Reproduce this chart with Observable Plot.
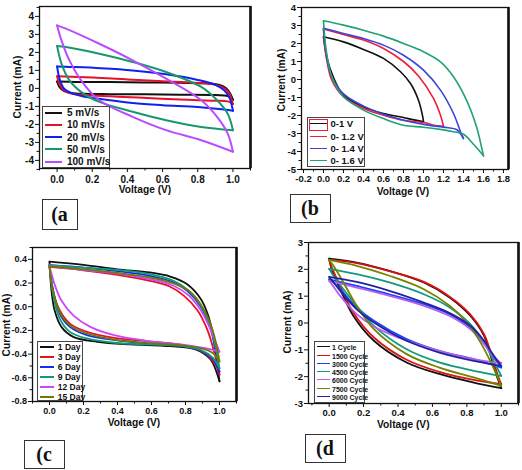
<!DOCTYPE html>
<html><head><meta charset="utf-8">
<script src="https://cdn.jsdelivr.net/npm/d3@7"></script>
<script src="https://cdn.jsdelivr.net/npm/@observablehq/plot@0.6"></script>
<style>
body{margin:0;background:#fff;}
#fig{position:relative;width:522px;height:470px;background:#fff;font-family:"Liberation Sans",Arial,sans-serif;overflow:hidden;color:#111}
.panel{position:absolute}
.title{position:absolute;font-weight:bold;font-size:10.2px;white-space:nowrap;color:#111;line-height:1}
.xt{transform:translate(-50%,-50%)}
.yt{transform:translate(-50%,-50%) rotate(-90deg)}
.legend{position:absolute;border:1px solid #444;background:#fff;box-sizing:border-box}
.legend .sw{position:absolute;height:0}
.legend .tx{position:absolute;font-weight:bold;white-space:nowrap;line-height:1;transform:translateY(-50%)}
.lab{position:absolute;border:1.5px solid #333;box-sizing:border-box;font-family:"Liberation Serif","Times New Roman",serif;font-weight:bold;font-size:20px;display:flex;align-items:center;justify-content:center;color:#111}
</style></head>
<body><div id="fig"></div>
<script>
// ---------- Panel (a): scan rate ----------
const rateLabels = ["5 mV/s", "10 mV/s", "20 mV/s", "50 mV/s", "100 mV/s"];
const rateColors = ["#111111", "#e8102a", "#1020f0", "#16986e", "#b84cff"];
const rate5 = [[0,0.38],[0.1,0.36],[0.3,0.35],[0.5,0.33],[0.7,0.31],[0.85,0.28],[0.92,0.2],[0.96,0.02],[0.985,-0.3],[1.0,-0.63],[0.97,-0.42],[0.9,-0.37],[0.7,-0.35],[0.5,-0.33],[0.3,-0.32],[0.15,-0.3],[0.08,-0.25],[0.04,-0.15],[0.015,0.05],[0,0.38]];
const rate10 = [[0,0.68],[0.2,0.6],[0.4,0.5],[0.6,0.4],[0.8,0.3],[0.9,0.2],[0.95,0.02],[0.98,-0.3],[1.0,-0.86],[0.97,-0.72],[0.9,-0.68],[0.7,-0.62],[0.46,-0.51],[0.3,-0.44],[0.15,-0.36],[0.08,-0.28],[0.04,-0.12],[0.015,0.2],[0,0.68]];
const rate20 = [[0,1.22],[0.05,1.2],[0.25,1.12],[0.43,1.0],[0.62,0.78],[0.8,0.47],[0.9,0.2],[0.95,-0.1],[0.98,-0.5],[1.0,-1.24],[0.95,-1.17],[0.8,-1.03],[0.6,-0.93],[0.43,-0.81],[0.27,-0.62],[0.15,-0.45],[0.08,-0.25],[0.04,-0.02],[0.015,0.5],[0,1.22]];
const rate50 = [[0,2.36],[0.05,2.3],[0.24,1.93],[0.43,1.47],[0.62,0.91],[0.82,0.08],[0.91,-0.66],[0.97,-1.4],[1.0,-2.32],[0.82,-2.14],[0.62,-1.77],[0.43,-1.3],[0.24,-0.75],[0.15,-0.29],[0.07,0.45],[0.025,1.38],[0,2.36]];
const rate100 = [[0,3.5],[0.05,3.32],[0.24,2.48],[0.43,1.56],[0.62,0.54],[0.82,-0.66],[0.91,-1.58],[0.97,-2.5],[1.0,-3.52],[0.82,-2.88],[0.62,-2.32],[0.43,-1.58],[0.24,-0.66],[0.15,0.27],[0.07,1.56],[0.025,2.67],[0,3.5]];
const rateSeries = [rate5, rate10, rate20, rate50, rate100];
const aXTicks = [0, 0.2, 0.4, 0.6, 0.8, 1.0];
const aXMinor = [-0.1, 0.1, 0.3, 0.5, 0.7, 0.9, 1.1];
const aYTicks = [-4, -3, -2, -1, 0, 1, 2, 3, 4];
const aYMinor = [-4.5, -3.5, -2.5, -1.5, -0.5, 0.5, 1.5, 2.5, 3.5, 4.5];

// ---------- Panel (b): potential window ----------
const windowLabels = ["0-1 V", "0- 1.2 V", "0- 1.4 V", "0- 1.6 V"];
const windowColors = ["#111111", "#ee1f3c", "#3a44d8", "#1fa276"];
const win10 = [[0,2.37],[0.2,2.09],[0.4,1.67],[0.6,1.17],[0.77,0.43],[0.87,-0.22],[0.95,-1.15],[0.99,-2.0],[1.0,-2.35],[0.87,-2.2],[0.8,-2.11],[0.6,-1.89],[0.4,-1.52],[0.2,-0.87],[0.1,0.11],[0.033,1.22],[0.008,2.0],[0,2.37]];
const win12 = [[0,2.8],[0.2,2.5],[0.4,2.19],[0.6,1.72],[0.8,1.0],[0.95,0.2],[1.1,-1.05],[1.17,-1.98],[1.2,-2.6],[1.1,-2.54],[1.03,-2.42],[0.8,-2.26],[0.6,-1.98],[0.4,-1.61],[0.2,-0.96],[0.083,-0.04],[0.033,1.07],[0.007,2.19],[0,2.8]];
const win14 = [[0,2.85],[0.2,2.56],[0.4,2.28],[0.6,1.91],[0.8,1.35],[1.0,0.52],[1.17,-0.59],[1.3,-1.89],[1.37,-2.9],[1.4,-3.28],[1.33,-2.78],[1.23,-2.67],[1.03,-2.52],[0.8,-2.26],[0.6,-1.93],[0.4,-1.48],[0.2,-0.8],[0.083,0.15],[0.027,1.44],[0,2.85]];
const win16 = [[0,3.26],[0.2,3.02],[0.4,2.74],[0.6,2.41],[0.8,2.0],[1.0,1.54],[1.17,0.98],[1.3,0.15],[1.43,-1.15],[1.53,-2.63],[1.58,-3.74],[1.6,-4.24],[1.5,-3.6],[1.4,-3.04],[1.3,-2.9],[1.2,-2.8],[1.0,-2.65],[0.8,-2.54],[0.6,-2.17],[0.4,-1.7],[0.2,-0.96],[0.083,0.15],[0.027,1.63],[0,3.26]];
const windowSeries = [win10, win12, win14, win16];
const bXTicks = [-0.2, 0, 0.2, 0.4, 0.6, 0.8, 1.0, 1.2, 1.4, 1.6, 1.8];
const bXMinor = [-0.1, 0.1, 0.3, 0.5, 0.7, 0.9, 1.1, 1.3, 1.5, 1.7];
const bYTicks = [-5, -4, -3, -2, -1, 0, 1, 2, 3, 4];
const bYMinor = [-4.5, -3.5, -2.5, -1.5, -0.5, 0.5, 1.5, 2.5, 3.5];

// ---------- Panel (c): days ----------
const dayLabels = ["1 Day", "3 Day", "6 Day", "9 Day", "12 Day", "15 Day"];
const dayColors = ["#111111", "#e8102a", "#1030f0", "#12987a", "#cc44ff", "#6f7a00"];
const day1 = [[0,0.38],[0.2,0.353],[0.4,0.316],[0.59,0.289],[0.71,0.255],[0.81,0.19],[0.89,0.066],[0.93,-0.06],[0.96,-0.226],[0.98,-0.42],[1.0,-0.63],[0.95,-0.45],[0.89,-0.38],[0.83,-0.35],[0.67,-0.33],[0.475,-0.318],[0.28,-0.296],[0.14,-0.254],[0.07,-0.17],[0.03,-0.03],[0.01,0.16],[0,0.38]];
const day3 = [[0,0.336],[0.2,0.308],[0.4,0.269],[0.59,0.219],[0.71,0.169],[0.79,0.094],[0.87,-0.03],[0.93,-0.2],[0.97,-0.39],[1.0,-0.574],[0.98,-0.5],[0.93,-0.41],[0.87,-0.36],[0.77,-0.32],[0.57,-0.29],[0.38,-0.263],[0.22,-0.212],[0.12,-0.143],[0.06,-0.03],[0.02,0.135],[0,0.336]];
const day6 = [[0,0.35],[0.2,0.33],[0.4,0.30],[0.59,0.26],[0.73,0.205],[0.81,0.135],[0.89,0.0],[0.95,-0.2],[0.98,-0.39],[1.0,-0.55],[0.96,-0.44],[0.89,-0.37],[0.77,-0.33],[0.57,-0.31],[0.38,-0.28],[0.22,-0.24],[0.12,-0.17],[0.06,-0.06],[0.02,0.15],[0,0.35]];
const day9 = [[0,0.35],[0.2,0.33],[0.4,0.31],[0.59,0.275],[0.73,0.219],[0.82,0.135],[0.89,0.01],[0.95,-0.185],[0.98,-0.366],[1.0,-0.52],[0.96,-0.43],[0.89,-0.365],[0.77,-0.33],[0.57,-0.318],[0.38,-0.304],[0.22,-0.268],[0.12,-0.212],[0.06,-0.1],[0.02,0.11],[0,0.35]];
const day12 = [[0,0.344],[0.2,0.31],[0.4,0.28],[0.59,0.233],[0.73,0.177],[0.82,0.094],[0.89,-0.03],[0.95,-0.2],[0.98,-0.31],[1.0,-0.38],[0.95,-0.36],[0.87,-0.338],[0.77,-0.318],[0.57,-0.288],[0.38,-0.24],[0.24,-0.17],[0.14,-0.073],[0.07,0.052],[0.03,0.19],[0,0.344]];
const day15 = [[0,0.34],[0.2,0.315],[0.4,0.285],[0.59,0.247],[0.73,0.197],[0.83,0.122],[0.9,-0.004],[0.95,-0.157],[0.98,-0.31],[1.0,-0.463],[0.96,-0.39],[0.89,-0.35],[0.77,-0.325],[0.57,-0.305],[0.38,-0.277],[0.22,-0.226],[0.12,-0.157],[0.06,-0.045],[0.02,0.14],[0,0.34]];
const daySeries = [day1, day3, day6, day9, day12, day15];
const cXTicks = [0, 0.2, 0.4, 0.6, 0.8, 1.0];
const cXMinor = [-0.1, 0.1, 0.3, 0.5, 0.7, 0.9, 1.1];
const cYTicks = [-0.8, -0.6, -0.4, -0.2, 0, 0.2, 0.4];
const cYMinor = [-0.7, -0.5, -0.3, -0.1, 0.1, 0.3, 0.5];

// ---------- Panel (d): cycles ----------
const cycleLabels = ["1 Cycle", "1500 Cycle", "3000 Cycle", "4500 Cycle", "6000 Cycle", "7500 Cycle", "9000 Cycle"];
const cycleColors = ["#111111", "#dd1111", "#1144ff", "#129a80", "#b95cf0", "#748400", "#22229a"];
const cyc1 = [[0,2.4],[0.16,2.25],[0.35,1.94],[0.55,1.51],[0.7,0.95],[0.82,0.27],[0.9,-0.48],[0.95,-1.47],[0.98,-2.09],[1.0,-2.43],[0.84,-2.22],[0.64,-1.9],[0.45,-1.47],[0.26,-0.66],[0.14,0.27],[0.064,1.26],[0.015,2.0],[0,2.4]];
const cyc1500 = [[0,2.35],[0.16,2.23],[0.35,1.93],[0.55,1.53],[0.7,0.98],[0.82,0.32],[0.9,-0.42],[0.95,-1.35],[0.98,-1.96],[1.0,-2.28],[0.84,-2.12],[0.64,-1.82],[0.45,-1.37],[0.26,-0.54],[0.14,0.39],[0.064,1.38],[0.015,2.07],[0,2.35]];
const cyc3000 = [[0,1.63],[0.16,1.38],[0.35,1.07],[0.55,0.7],[0.7,0.33],[0.82,-0.17],[0.9,-0.73],[0.95,-1.22],[1.0,-1.66],[0.84,-1.35],[0.64,-1.04],[0.45,-0.6],[0.26,0.08],[0.16,0.58],[0.064,1.26],[0.015,1.57],[0,1.63]];
const cyc4500 = [[0,2.02],[0.16,1.82],[0.35,1.51],[0.55,1.07],[0.7,0.58],[0.82,-0.04],[0.9,-0.73],[0.95,-1.35],[1.0,-1.97],[0.84,-1.78],[0.64,-1.47],[0.45,-0.98],[0.26,-0.11],[0.16,0.64],[0.083,1.26],[0.025,1.76],[0,2.02]];
const cyc6000 = [[0,1.57],[0.16,1.32],[0.35,1.01],[0.55,0.64],[0.7,0.26],[0.82,-0.23],[0.9,-0.79],[0.95,-1.22],[1.0,-1.5],[0.84,-1.35],[0.64,-1.04],[0.45,-0.66],[0.26,-0.13],[0.16,0.33],[0.064,1.01],[0.015,1.45],[0,1.57]];
const cyc7500 = [[0,2.35],[0.16,2.13],[0.35,1.76],[0.55,1.26],[0.7,0.64],[0.8,0.02],[0.88,-0.73],[0.94,-1.47],[1.0,-2.34],[0.84,-2.03],[0.64,-1.66],[0.45,-1.16],[0.26,-0.23],[0.16,0.64],[0.083,1.51],[0.025,2.13],[0,2.35]];
const cyc9000 = [[0,1.72],[0.16,1.53],[0.35,1.2],[0.55,0.76],[0.7,0.37],[0.82,-0.1],[0.9,-0.66],[0.95,-1.16],[1.0,-1.6],[0.84,-1.41],[0.64,-1.1],[0.45,-0.66],[0.26,0.02],[0.16,0.51],[0.064,1.2],[0.015,1.6],[0,1.72]];
const cycleSeries = [cyc1, cyc1500, cyc3000, cyc4500, cyc6000, cyc7500, cyc9000];
const dXTicks = [0, 0.2, 0.4, 0.6, 0.8, 1.0];
const dXMinor = [-0.1, 0.1, 0.3, 0.5, 0.7, 0.9, 1.1];
const dYTicks = [-3, -2, -1, 0, 1, 2, 3];
const dYMinor = [-2.5, -1.5, -0.5, 0.5, 1.5, 2.5];

const xTitle = "Voltage (V)";
const yTitle = "Current (mA)";
const panelTags = ["(a", "(b", "(c", "(d"];

// ---------- helpers ----------
const fig = document.getElementById("fig");

function toRows(series, labels) {
  const rows = [];
  series.forEach((pts, s) => {
    let k = 0;
    pts.forEach((p, j) => { if (p[0] > pts[k][0]) k = j; });
    pts.forEach((p, j) => {
      if (j <= k) rows.push({v: p[0], i: p[1], name: labels[s], branch: s + "-up"});
    });
    pts.forEach((p, j) => {
      if (j >= k) rows.push({v: p[0], i: p[1], name: labels[s], branch: s + "-down"});
    });
  });
  return rows;
}

function makePanel(cfg) {
  const rows = toRows(cfg.series, cfg.labels);
  const svg = Plot.plot({
    width: cfg.w, height: cfg.h,
    marginTop: cfg.m[0], marginRight: cfg.m[1], marginBottom: cfg.m[2], marginLeft: cfg.m[3],
    style: {fontFamily: "Liberation Sans, Arial, sans-serif", fontWeight: "bold", fontSize: cfg.fs + "px", color: "#111", background: "transparent"},
    x: {domain: cfg.xd, label: null},
    y: {domain: cfg.yd, label: null},
    color: {domain: cfg.labels, range: cfg.colors},
    marks: [
      Plot.line(rows, {x: "v", y: "i", z: "branch", stroke: "name", strokeWidth: cfg.sw, curve: "catmull-rom"}),
      Plot.frame({stroke: "#111", strokeWidth: 1.3}),
      Plot.ruleX([cfg.xd[1]], {stroke: "#111", strokeWidth: 2.6}),
      Plot.axisX(cfg.xt, {tickSize: 4, tickPadding: cfg.xpad, tickFormat: d => d.toFixed(1), label: null, stroke: "#111"}),
      Plot.axisX(cfg.xm, {tickSize: 2.5, tickFormat: () => "", label: null, stroke: "#111"}),
      Plot.axisY(cfg.yt, {tickSize: 4, tickPadding: 1.5, tickFormat: cfg.yfmt, label: null, stroke: "#111"}),
      Plot.axisY(cfg.ym, {tickSize: 2.5, tickFormat: () => "", label: null, stroke: "#111"})
    ]
  });
  const holder = document.createElement("div");
  holder.className = "panel";
  holder.style.left = cfg.left + "px";
  holder.style.top = cfg.top + "px";
  holder.appendChild(svg);
  fig.appendChild(holder);

  // axis titles
  const xt = document.createElement("div");
  xt.className = "title xt"; xt.textContent = xTitle;
  xt.style.left = cfg.xtPos[0] + "px"; xt.style.top = cfg.xtPos[1] + "px";
  const yt = document.createElement("div");
  yt.className = "title yt"; yt.textContent = yTitle;
  yt.style.left = cfg.ytPos[0] + "px"; yt.style.top = cfg.ytPos[1] + "px";
  fig.appendChild(xt); fig.appendChild(yt);

  // legend
  const L = cfg.leg;
  const lg = document.createElement("div");
  lg.className = "legend";
  Object.assign(lg.style, {left: L.x + "px", top: L.y + "px", width: L.w + "px", height: L.h + "px"});
  cfg.labels.forEach((lab, k) => {
    const cy = L.r0 + L.step * k;
    const sw = document.createElement("div");
    sw.className = "sw";
    Object.assign(sw.style, {left: L.l1 + "px", width: (L.l2 - L.l1) + "px", top: (cy - L.lw / 2) + "px", borderTop: L.lw + "px solid " + cfg.colors[k]});
    lg.appendChild(sw);
    const tx = document.createElement("div");
    tx.className = "tx"; tx.textContent = lab;
    Object.assign(tx.style, {left: L.tx + "px", top: cy + "px", fontSize: L.fs + "px"});
    lg.appendChild(tx);
  });
  if (L.mark) {
    const mk = document.createElement("div");
    Object.assign(mk.style, {position: "absolute", left: L.mark[0] + "px", top: L.mark[1] + "px", width: L.mark[2] + "px", height: L.mark[3] + "px", border: "1px solid #e8203c", boxSizing: "border-box"});
    lg.appendChild(mk);
  }
  fig.appendChild(lg);

  // panel tag box
  const tag = document.createElement("div");
  tag.className = "lab"; tag.textContent = cfg.tag;
  Object.assign(tag.style, {left: cfg.tagBox[0] + "px", top: cfg.tagBox[1] + "px", width: cfg.tagBox[2] + "px", height: cfg.tagBox[3] + "px"});
  fig.appendChild(tag);
}

const intFmt = d => String(d);
const oneFmt = d => d.toFixed(1);

makePanel({series: rateSeries, labels: rateLabels, colors: rateColors, sw: 2,
  left: 0, top: 0, w: 260, h: 185, m: [6, 10, 17, 39], fs: 10, xpad: 3,
  xd: [-0.1, 1.1], yd: [-4.45, 4.55], xt: aXTicks, xm: aXMinor, yt: aYTicks, ym: aYMinor, yfmt: intFmt,
  xtPos: [145, 190], ytPos: [18, 87],
  leg: {x: 41.5, y: 105.5, w: 68, h: 62, r0: 6.8, step: 12.1, l1: 2.5, l2: 19.5, tx: 24.5, fs: 10, lw: 2.4},
  tag: panelTags[0], tagBox: [41.5, 199, 36, 31]});

makePanel({series: windowSeries, labels: windowLabels, colors: windowColors, sw: 1.6,
  left: 260, top: 0, w: 262, h: 185, m: [7, 14, 16, 41], fs: 9.5, xpad: 2,
  xd: [-0.22, 1.85], yd: [-5, 4], xt: bXTicks, xm: bXMinor, yt: bYTicks, ym: bYMinor, yfmt: intFmt,
  xtPos: [403, 191.5], ytPos: [281.5, 80],
  leg: {x: 306.5, y: 116.5, w: 58, h: 50.5, r0: 6.8, step: 12.3, l1: 2, l2: 19, tx: 23, fs: 9.5, lw: 1.8, mark: [1, 1.5, 19, 11.5]},
  tag: panelTags[1], tagBox: [289.5, 194, 41, 29]});

makePanel({series: daySeries, labels: dayLabels, colors: dayColors, sw: 1.8,
  left: 0, top: 235, w: 260, h: 185, m: [12, 24, 19, 32], fs: 9, xpad: 2,
  xd: [-0.1, 1.1], yd: [-0.8, 0.5], xt: cXTicks, xm: cXMinor, yt: cYTicks, ym: cYMinor, yfmt: oneFmt,
  xtPos: [134, 422.5], ytPos: [7, 325],
  leg: {x: 37.3, y: 340.7, w: 46, h: 60, r0: 5, step: 10, l1: 2, l2: 16, tx: 19.5, fs: 8.5, lw: 2},
  tag: panelTags[2], tagBox: [23.5, 440, 41, 28.5]});

makePanel({series: cycleSeries, labels: cycleLabels, colors: cycleColors, sw: 1.8,
  left: 260, top: 235, w: 262, h: 185, m: [7, 4, 17, 48], fs: 9.5, xpad: 2,
  xd: [-0.12, 1.1], yd: [-3, 3], xt: dXTicks, xm: dXMinor, yt: dYTicks, ym: dYMinor, yfmt: intFmt,
  xtPos: [403.3, 425], ytPos: [288.3, 321.7],
  leg: {x: 314.3, y: 340.7, w: 51, h: 62, r0: 5.6, step: 8.25, l1: 1.7, l2: 14.4, tx: 16.7, fs: 7, lw: 1.8},
  tag: panelTags[3], tagBox: [304.5, 433.5, 41, 29]});
</script>
</body></html>
